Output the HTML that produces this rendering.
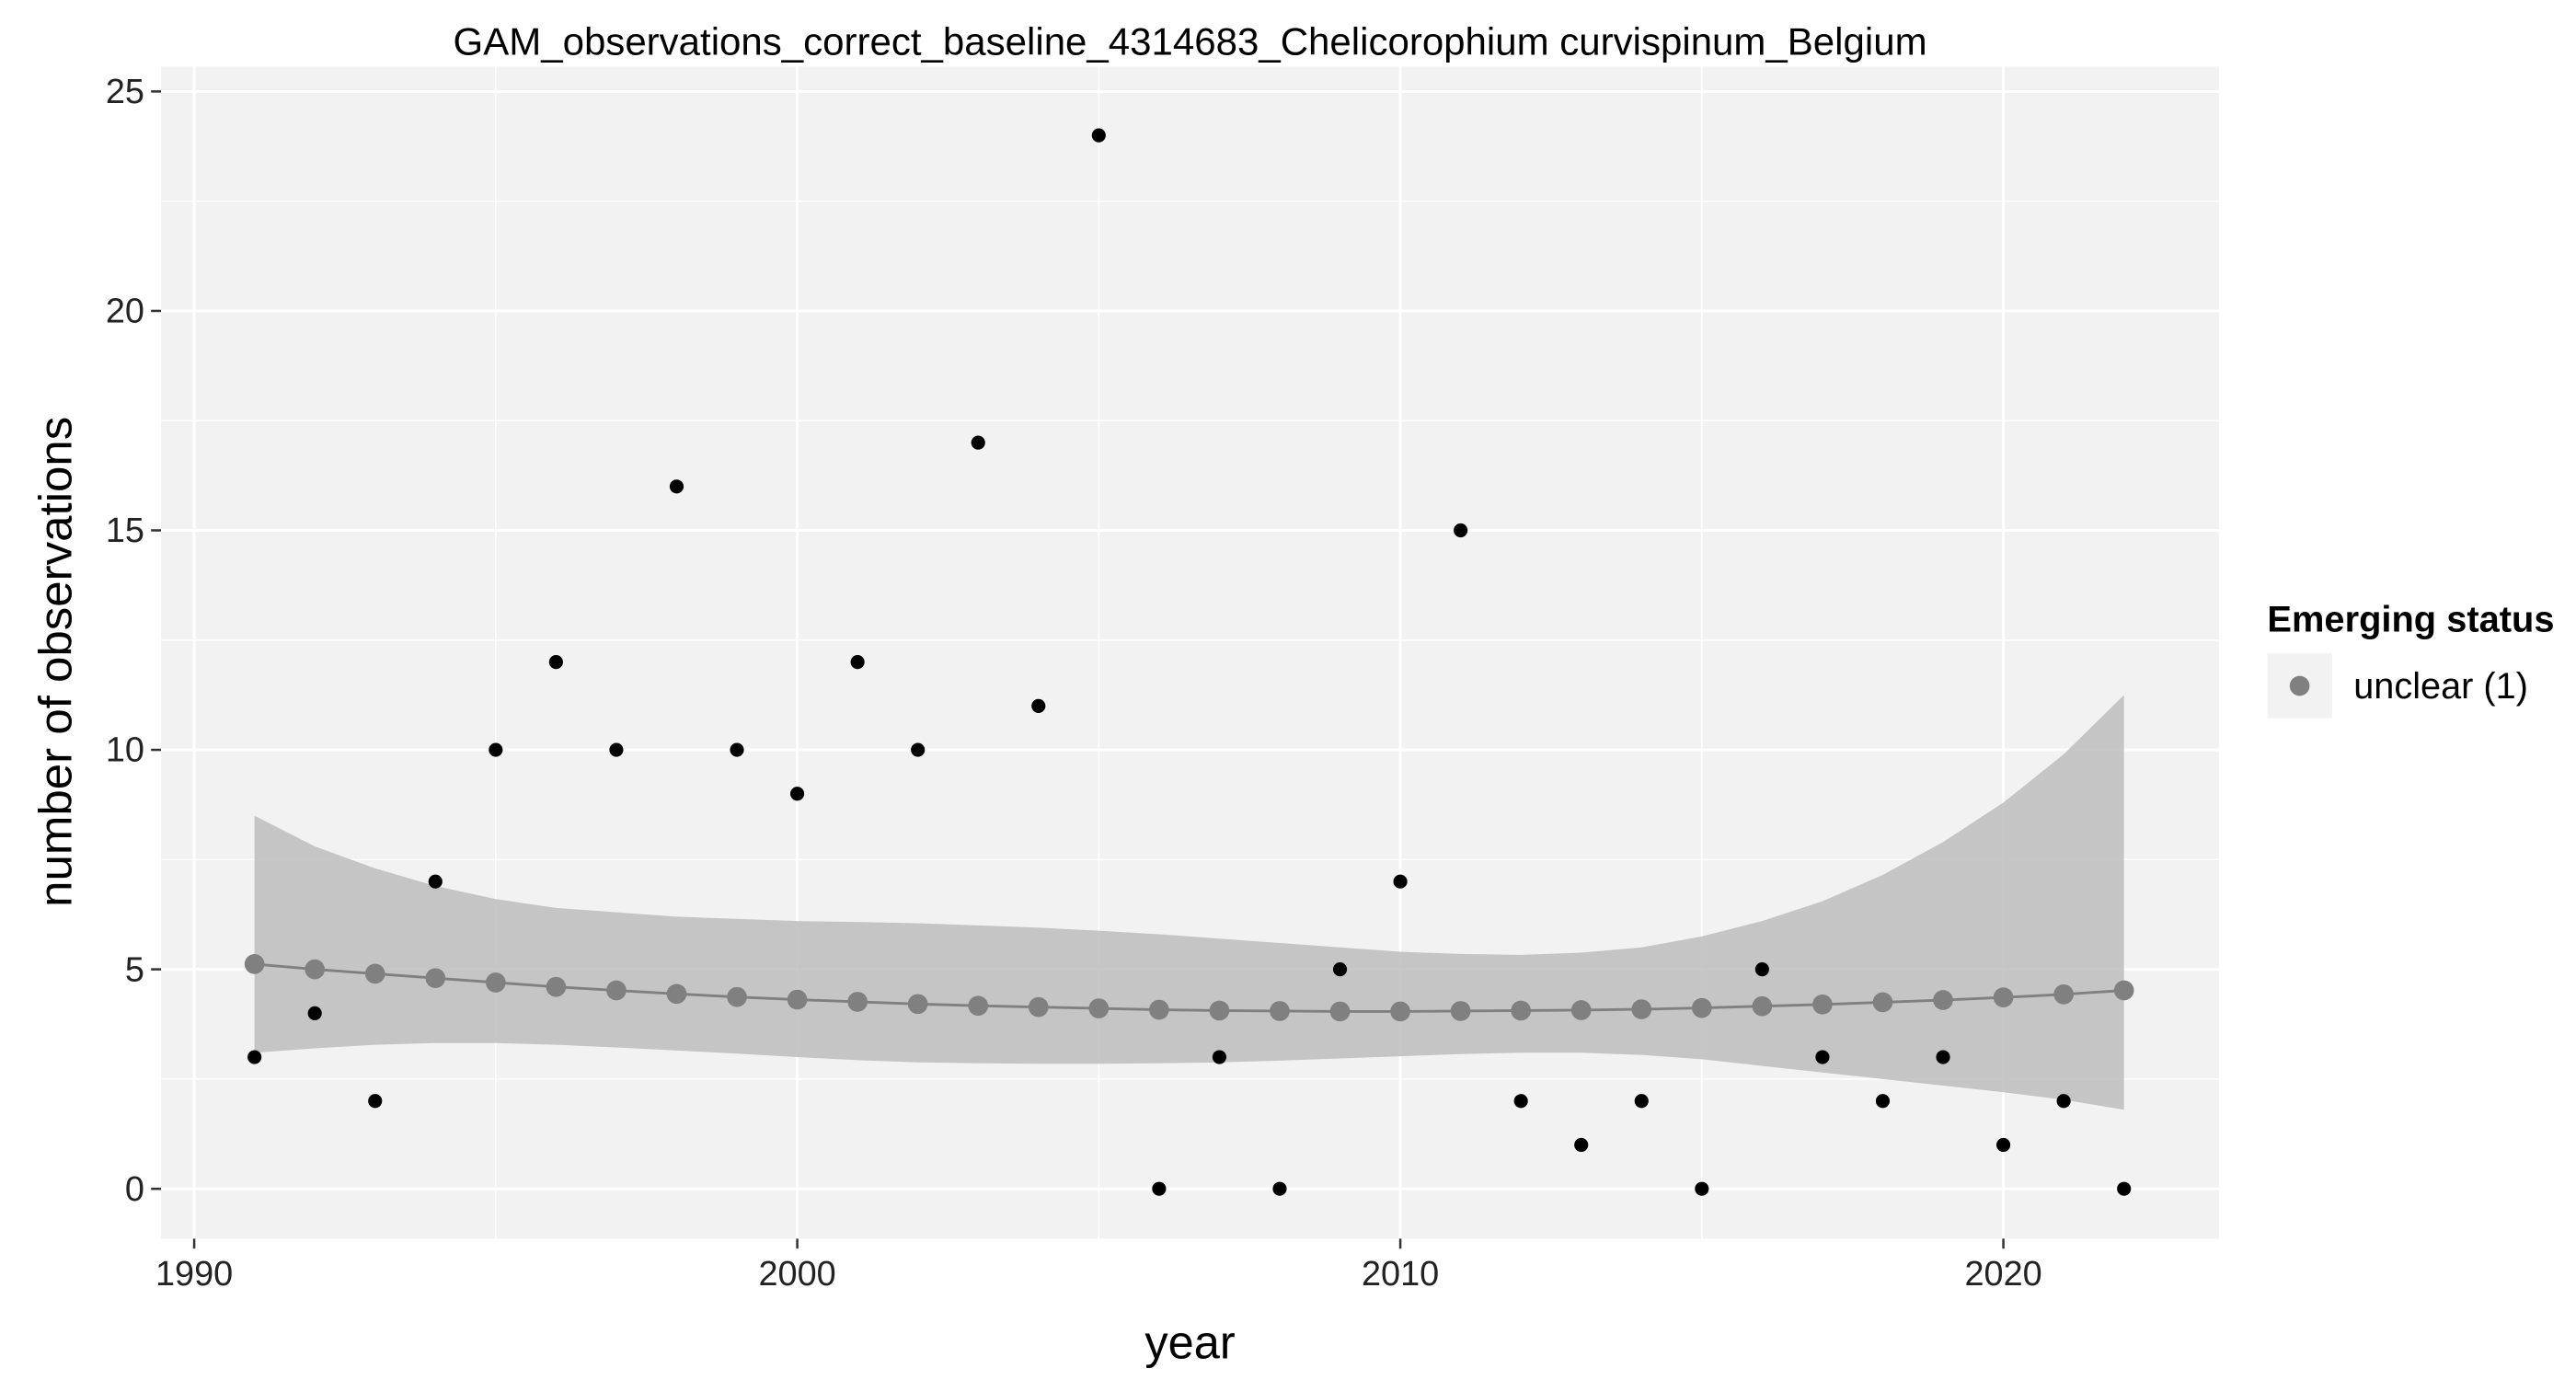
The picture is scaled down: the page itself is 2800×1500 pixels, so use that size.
<!DOCTYPE html>
<html><head><meta charset="utf-8"><style>
html,body{margin:0;padding:0;background:#fff}
svg{display:block}
text{font-family:"Liberation Sans",Arial,sans-serif}
</style></head><body>
<svg id="chart" width="2800" height="1500" viewBox="0 0 1552 830" preserveAspectRatio="none" xmlns="http://www.w3.org/2000/svg">
<rect width="1552" height="830" fill="#fff"/>
<text x="717" y="33" font-size="23" text-anchor="middle" textLength="888" lengthAdjust="spacingAndGlyphs">GAM_observations_correct_baseline_4314683_Chelicorophium curvispinum_Belgium</text>
<rect x="97" y="40" width="1240" height="705" fill="#f2f2f2"/>
<g id="grid"></g>
<g id="band"></g>
<g id="marks"></g>
<g id="axes"></g>
<text x="717" y="817" font-size="28" text-anchor="middle">year</text>
<text transform="translate(43,398) rotate(-90)" font-size="28" text-anchor="middle" textLength="295" lengthAdjust="spacingAndGlyphs">number of observations</text>
<g>
<text x="1366" y="380" font-size="22" font-weight="bold" textLength="173" lengthAdjust="spacingAndGlyphs">Emerging status</text>
<rect x="1366" y="393" width="39" height="39" fill="#f2f2f2"/>
<circle cx="1385.5" cy="412.5" r="6" fill="#808080"/>
<text x="1418" y="420" font-size="22">unclear (1)</text>
</g>
</svg>
<script>
const years = [1991,1992,1993,1994,1995,1996,1997,1998,1999,2000,2001,2002,2003,2004,2005,2006,2007,2008,2009,2010,2011,2012,2013,2014,2015,2016,2017,2018,2019,2020,2021,2022];
const observed = [3,4,2,7,10,12,10,16,10,9,12,10,17,11,24,0,3,0,5,7,15,2,1,2,0,5,3,2,3,1,2,0];
const fitted = [5.12,5.0,4.9,4.8,4.7,4.6,4.52,4.44,4.37,4.31,4.26,4.21,4.17,4.14,4.11,4.08,4.06,4.05,4.04,4.04,4.05,4.06,4.07,4.09,4.12,4.16,4.2,4.25,4.3,4.36,4.43,4.52];
const upper = [8.5,7.8,7.3,6.9,6.6,6.4,6.3,6.2,6.15,6.1,6.08,6.05,6.0,5.95,5.88,5.8,5.7,5.6,5.5,5.4,5.35,5.33,5.38,5.5,5.75,6.1,6.55,7.15,7.9,8.8,9.9,11.25];
const lower = [3.1,3.2,3.28,3.32,3.32,3.28,3.22,3.15,3.08,3.0,2.93,2.88,2.86,2.85,2.85,2.86,2.88,2.92,2.97,3.02,3.07,3.1,3.1,3.05,2.95,2.8,2.65,2.5,2.35,2.2,2.03,1.8];
const xTicks = [1990,2000,2010,2020];
const yTicks = [0,5,10,15,20,25];

const NS="http://www.w3.org/2000/svg";
const px0=97,px1=1337,py0=40,py1=745;
function xs(v){return 117+(v-1990)*(1207-117)/30;}
function ys(v){return 715-v*(715-55)/25;}
function mk(tag,attrs,parent){const e=document.createElementNS(NS,tag);for(const k in attrs)e.setAttribute(k,attrs[k]);parent.appendChild(e);return e;}
const grid=document.getElementById('grid'),band=document.getElementById('band'),marks=document.getElementById('marks'),axes=document.getElementById('axes');

for(let i=0;i<yTicks.length;i++){
  const y=ys(yTicks[i]);
  const g=mk('line',{x1:px0,x2:px1,y1:y,y2:y,stroke:'#fff','stroke-width':1.6},grid);
  
  
  if(i<yTicks.length-1){const ym=ys((yTicks[i]+yTicks[i+1])/2);
    const m=mk('line',{x1:px0,x2:px1,y1:ym,y2:ym,stroke:'#fff','stroke-width':0.8},grid);
    
    }
  const t=mk('line',{x1:91,x2:97,y1:y,y2:y,stroke:'#333','stroke-width':1.4},axes);
  
  
  const l=mk('text',{x:87,y:y+7,'font-size':21,'text-anchor':'end',fill:'#222'},axes);
  l.textContent=yTicks[i];
  
  
}
for(let i=0;i<xTicks.length;i++){
  const x=xs(xTicks[i]);
  const g=mk('line',{x1:x,x2:x,y1:py0,y2:py1,stroke:'#fff','stroke-width':1.6},grid);
  
  
  const xm=xs(xTicks[i]+5);
  if(xm<px1){const m=mk('line',{x1:xm,x2:xm,y1:py0,y2:py1,stroke:'#fff','stroke-width':0.8},grid);
    
    }
  const t=mk('line',{x1:x,x2:x,y1:745,y2:751,stroke:'#333','stroke-width':1.4},axes);
  
  
  const l=mk('text',{x:x,y:773,'font-size':21,'text-anchor':'middle',fill:'#222'},axes);
  l.textContent=xTicks[i];
  
  
}
let d='';
years.forEach((yr,i)=>{d+=(i?'L':'M')+xs(yr)+','+ys(upper[i]);});
for(let i=years.length-1;i>=0;i--)d+='L'+xs(years[i])+','+ys(lower[i]);
const b=mk('path',{d:d+'Z',fill:'#bdbdbd','fill-opacity':0.85},band);


const ln=mk('polyline',{points:years.map((yr,i)=>xs(yr)+','+ys(fitted[i])).join(' '),fill:'none',stroke:'#808080','stroke-width':1.6},marks);


years.forEach((yr,i)=>{
  const c=mk('circle',{cx:xs(yr),cy:ys(fitted[i]),r:6,fill:'#808080'},marks);
  
  
});
years.forEach((yr,i)=>{
  const c=mk('circle',{cx:xs(yr),cy:ys(observed[i]),r:4.2,fill:'#000'},marks);
  
  
});
</script>
</body></html>
